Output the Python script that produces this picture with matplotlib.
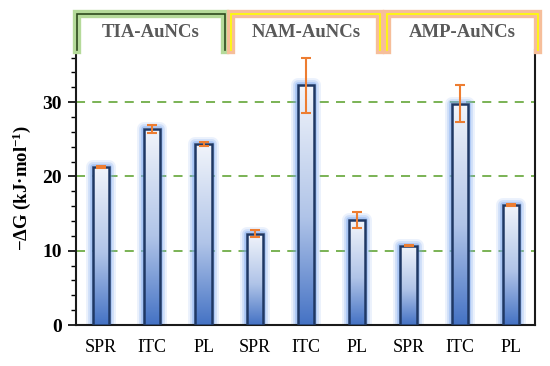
import numpy as np
import matplotlib
matplotlib.use('Agg')
import matplotlib.pyplot as plt
from matplotlib.colors import LinearSegmentedColormap
from matplotlib.patches import Rectangle
import matplotlib.transforms as mtransforms

plt.rcParams['font.family'] = ['Liberation Serif', 'DejaVu Serif']
plt.rcParams['mathtext.fontset'] = 'custom'
plt.rcParams['mathtext.rm'] = 'Liberation Serif:bold'
plt.rcParams['mathtext.default'] = 'rm'

# data
methods = ['SPR', 'ITC', 'PL', 'SPR', 'ITC', 'PL', 'SPR', 'ITC', 'PL']
values = [21.3, 26.4, 24.4, 12.3, 32.3, 14.1, 10.7, 29.8, 16.2]
errors = [0.1, 0.55, 0.25, 0.5, 3.7, 1.05, 0.1, 2.45, 0.15]
groups = ['TIA-AuNCs', 'NAM-AuNCs', 'AMP-AuNCs']

fig = plt.figure(figsize=(5.5, 3.66), dpi=100)
ax = fig.add_axes([0.138, 0.112, 0.835, 0.751])

x = np.arange(len(values))
width = 0.32
cmap = LinearSegmentedColormap.from_list(
    'bar', [(0, '#4472C4'), (0.45, '#B0C4E8'), (1, '#F2F5FB')])
grad = np.linspace(0, 1, 256).reshape(-1, 1)

for yv in [10, 20, 30]:
    ax.axhline(yv, color='#70AD47', lw=1.3, ls=(0, (5, 4)), zorder=1)

for xi, v in zip(x, values):
    # soft glow around the bar
    for lw, a in [(10, 0.15), (7, 0.25), (4, 0.45)]:
        ax.add_patch(Rectangle((xi - width / 2, 0), width, v, fill=False,
                               ec='#7AA7F0', lw=lw, alpha=a, zorder=2, joinstyle='round'))
    ax.imshow(grad, cmap=cmap, aspect='auto', origin='lower',
              extent=(xi - width / 2, xi + width / 2, 0, v), zorder=3)
    ax.add_patch(Rectangle((xi - width / 2, 0), width, v, fill=False,
                           ec='#1F3864', lw=1.8, zorder=4))

ax.errorbar(x, values, yerr=errors, fmt='none', ecolor='#ED7D31',
            elinewidth=1.5, capsize=3.5, capthick=1.5, zorder=5)

ax.set_xlim(-0.49, 8.47)
ax.set_ylim(0, 37)
ax.set_yticks([0, 10, 20, 30])
ax.set_yticks(np.arange(0, 37, 2), minor=True)
ax.set_xticks(x)
ax.set_xticklabels(methods, fontsize=13)
ax.tick_params(axis='x', length=0, pad=10)
ax.tick_params(axis='y', which='major', length=6, width=1.2, labelsize=14, pad=4)
ax.tick_params(axis='y', which='minor', length=3.5, width=1.0)
for lab in ax.get_yticklabels():
    lab.set_fontweight('bold')
ax.spines['top'].set_visible(False)
for s in ['left', 'right', 'bottom']:
    ax.spines[s].set_linewidth(1.5)
    ax.spines[s].set_color('#1a1a1a')
ax.set_ylabel('−ΔG (kJ·mol$^{-1}$)', fontsize=13.5, fontweight='bold', labelpad=7)

# header tabs above the plot
trans = mtransforms.blended_transform_factory(ax.transData, ax.transAxes)
tabs = [(-0.475, 2.42, '#B5DA9A', '#2E4A1E'),
        (2.54, 5.45, '#F6BE9A', '#FFFF00'),
        (5.57, 8.52, '#F6BE9A', '#FFFF00')]
ytop = 1.13
for (x0, x1, glow, line), name in zip(tabs, groups):
    px = [x0, x0, x1, x1]
    py = [1.0, ytop, ytop, 1.0]
    ax.plot(px, py, transform=trans, color=glow, lw=6, clip_on=False,
            solid_joinstyle='miter', zorder=6)
    ax.plot(px, py, transform=trans, color=line, lw=1.2, clip_on=False,
            solid_joinstyle='miter', zorder=7)
    ax.text((x0 + x1) / 2, 1.065, name, transform=trans, ha='center', va='center',
            fontsize=13.5, fontweight='bold', color='#595959', clip_on=False)

fig.savefig('out.png', dpi=100)
